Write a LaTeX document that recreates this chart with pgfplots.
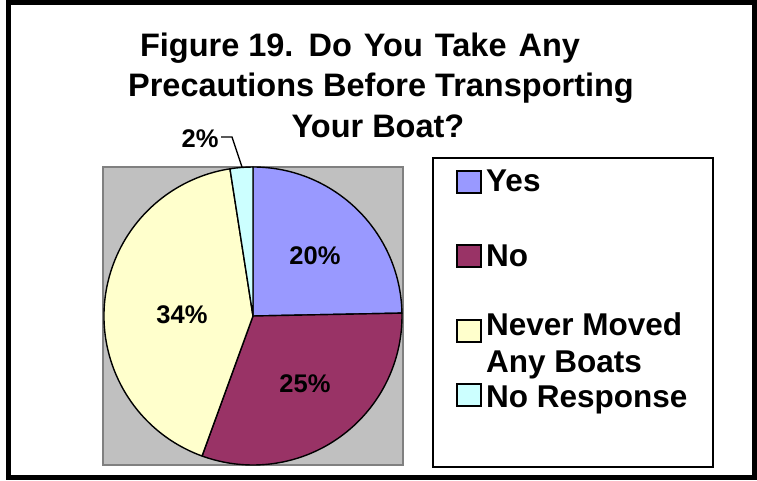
\documentclass[border=0pt]{standalone}
\usepackage{pgfplots}
\usepackage{pgfplotstable}
\usepackage{fontspec}
\setmainfont{Liberation Sans}
\pgfplotsset{compat=1.18}

\definecolor{cyes}{HTML}{9999FF}
\definecolor{cno}{HTML}{993366}
\definecolor{cnever}{HTML}{FFFFCC}
\definecolor{cnr}{HTML}{CCFFFF}
\definecolor{plotbg}{HTML}{C0C0C0}
\definecolor{plotbd}{HTML}{808080}

% category, value (percent shown on the chart), label position
\pgfplotstableread{
cat    value lx  ly
Yes    20    315 224
No     25    305 96
Never  34    182 165
NR     2     200 341
}\piedata

\begin{document}
\begin{tikzpicture}
\begin{axis}[
  width=757pt, height=480pt, scale only axis,
  xmin=0, xmax=757, ymin=0, ymax=480,
  axis lines=none, clip=false,
  at={(0,0)}, anchor=south west,
]
\pgfplotsextra{
  % outer frame
  \draw[line width=5pt] (axis cs:8,2.5) rectangle (axis cs:754.5,477.5);
  % title
  \node[anchor=base, inner sep=0, font=\fontsize{32.5}{39}\selectfont\bfseries] at (axis cs:360,423) {Figure 19.\hspace{3pt} Do\hspace{3pt} You\hspace{3pt} Take\hspace{3pt} Any};
  \node[anchor=base, inner sep=0, font=\fontsize{32.5}{39}\selectfont\bfseries] at (axis cs:381,383) {Precautions Before Transporting};
  \node[anchor=base, inner sep=0, font=\fontsize{32.5}{39}\selectfont\bfseries] at (axis cs:378,342) {Your Boat?};
  % plot area
  \filldraw[fill=plotbg, draw=plotbd, line width=1.5pt] (axis cs:103,15) rectangle (axis cs:403,313);
  % total
  \pgfplotstablegetrowsof{\piedata}
  \pgfmathtruncatemacro\nrows{\pgfplotsretval-1}
  \gdef\pietotal{0}
  \foreach \i in {0,...,\nrows}{
    \pgfplotstablegetelem{\i}{value}\of\piedata
    \pgfmathsetmacro\t{\pietotal+\pgfplotsretval}
    \global\let\pietotal\t
  }
  % sectors
  \gdef\curang{90}
  \foreach \i/\c in {0/cyes,1/cno,2/cnever,3/cnr}{
    \pgfplotstablegetelem{\i}{value}\of\piedata
    \pgfmathsetmacro\sweep{360*\pgfplotsretval/\pietotal}
    \pgfmathsetmacro\endang{\curang-\sweep}
    \filldraw[fill=\c, draw=black, line width=1.4pt, line join=round]
      (axis cs:253,164) -- ++(\curang:149pt) arc[start angle=\curang, end angle=\endang, radius=149pt] -- cycle;
    \global\let\curang\endang
  }
  % data labels
  \foreach \i in {0,...,\nrows}{
    \pgfplotstablegetelem{\i}{value}\of\piedata \let\v\pgfplotsretval
    \pgfplotstablegetelem{\i}{lx}\of\piedata \let\lx\pgfplotsretval
    \pgfplotstablegetelem{\i}{ly}\of\piedata \let\ly\pgfplotsretval
    \node[inner sep=0, font=\fontsize{25.5}{30}\selectfont\bfseries] at (axis cs:\lx,\ly) {\v\%};
  }
  % leader line for small slice
  \draw[line width=1.3pt] (axis cs:221,343) -- (axis cs:232,343) -- (axis cs:242,313);
  % legend
  \draw[line width=1.5pt, fill=white] (axis cs:433,13) rectangle (axis cs:713,322);
  \filldraw[fill=cyes, draw=black, line width=1.5pt] (axis cs:457,287) rectangle (axis cs:481,309);
  \filldraw[fill=cno, draw=black, line width=1.5pt] (axis cs:457,213) rectangle (axis cs:481,235);
  \filldraw[fill=cnever, draw=black, line width=1.5pt] (axis cs:457,138) rectangle (axis cs:481,160);
  \filldraw[fill=cnr, draw=black, line width=1.5pt] (axis cs:457,74) rectangle (axis cs:481,96);
  \node[anchor=base west, inner sep=0, font=\fontsize{31.5}{37}\selectfont\bfseries] at (axis cs:486,288) {Yes};
  \node[anchor=base west, inner sep=0, font=\fontsize{31.5}{37}\selectfont\bfseries] at (axis cs:486,214) {No};
  \node[anchor=base west, inner sep=0, font=\fontsize{31.5}{37}\selectfont\bfseries] at (axis cs:486,145) {Never Moved};
  \node[anchor=base west, inner sep=0, font=\fontsize{31.5}{37}\selectfont\bfseries] at (axis cs:486,108) {Any Boats};
  \node[anchor=base west, inner sep=0, font=\fontsize{31.5}{37}\selectfont\bfseries] at (axis cs:486,73) {No Response};
}
\end{axis}
\pgfresetboundingbox
\path[use as bounding box] (0,0) rectangle (757pt,480pt);
\end{tikzpicture}
\end{document}
